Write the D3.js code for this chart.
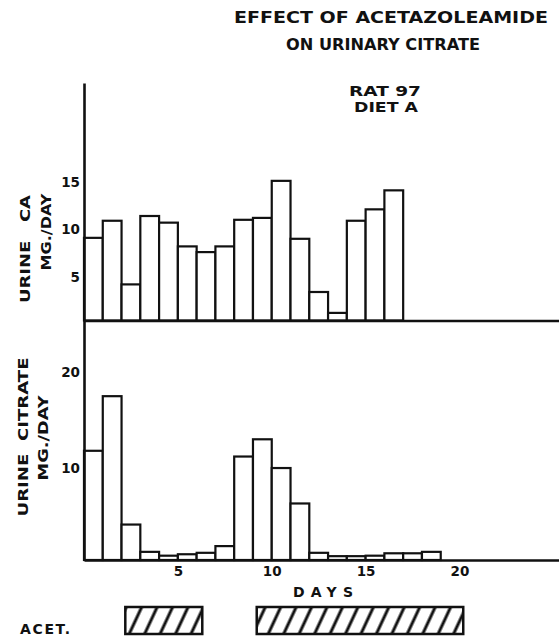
<!DOCTYPE html>
<meta charset="utf-8">
<style>
  body { margin: 0; background: #fff; }
  text { font-family: "DejaVu Sans", sans-serif; font-weight: bold; fill: #111; white-space: pre; }
</style>
<body>
<script src="https://cdn.jsdelivr.net/npm/d3@7/dist/d3.min.js"></script>
<script>
// values (mg/day, one bar per day)
var urineCa = [8.7, 10.5, 3.8, 11.0, 10.3, 7.8, 7.2, 7.8, 10.6, 10.8, 14.7, 8.6, 3.0, 0.8, 10.5, 11.7, 13.7];
var urineCitrate = [11.4, 17.1, 3.7, 0.85, 0.45, 0.6, 0.75, 1.45, 10.8, 12.6, 9.6, 5.9, 0.75, 0.4, 0.4, 0.45, 0.7, 0.7, 0.85];
var caTicks = [5, 10, 15];
var citrateTicks = [10, 20];
var dayTicks = [5, 10, 15, 20];
// acetazolamide given (in day units)
var acetPeriods = [[2.2, 6.3], [9.2, 20.2]];
var titleLines = ["EFFECT OF ACETAZOLEAMIDE", "ON URINARY CITRATE", "RAT 97", "DIET A"];

var width = 559, height = 637;
var svg = d3.select("body").append("svg")
  .attr("width", width)
  .attr("height", height);

// scales
var x = d3.scaleLinear().domain([0, 25.3]).range([84, 559]);
var yCa = d3.scaleLinear().domain([0, 25]).range([320.5, 83]);
var yCit = d3.scaleLinear().domain([0, 25]).range([560, 320.5]);

// hatch for the acet. boxes
svg.append("defs").append("pattern")
  .attr("id", "hatch")
  .attr("patternUnits", "userSpaceOnUse")
  .attr("width", 14).attr("height", 14)
  .attr("patternTransform", "rotate(25)")
  .append("line")
    .attr("x1", 7).attr("y1", -2).attr("x2", 7).attr("y2", 16)
    .attr("stroke", "#111").attr("stroke-width", 3);

// title
var titleText = [
  {x: 391, y: 23, len: 314, size: 15},
  {x: 383, y: 50, len: 194, size: 15},
  {x: 385, y: 96, len: 72, size: 14},
  {x: 386, y: 112, len: 64, size: 14}
];
titleText.forEach(function (t, i) {
  svg.append("text")
    .attr("x", t.x).attr("y", t.y)
    .attr("text-anchor", "middle")
    .attr("font-size", t.size)
    .attr("textLength", t.len)
    .attr("lengthAdjust", "spacingAndGlyphs")
    .text(titleLines[i]);
});

// bars
function drawBars(data, y) {
  svg.append("g").selectAll("rect")
    .data(data)
    .enter().append("rect")
      .attr("x", function (d, i) { return x(i); })
      .attr("width", x(1) - x(0))
      .attr("y", function (d) { return y(d); })
      .attr("height", function (d) { return y(0) - y(d); })
      .attr("fill", "#fff")
      .attr("stroke", "#111")
      .attr("stroke-width", 2.2);
}
drawBars(urineCa, yCa);
drawBars(urineCitrate, yCit);

// axes
function styleAxis(g) {
  g.select(".domain").attr("stroke", "#111").attr("stroke-width", 2.6);
  g.selectAll("text")
    .attr("font-family", "DejaVu Sans, sans-serif")
    .attr("font-weight", "bold")
    .attr("font-size", 13.5)
    .attr("fill", "#111");
}
svg.append("g")
  .attr("transform", "translate(" + x(0) + ",0)")
  .call(d3.axisLeft(yCa).tickValues(caTicks).tickSize(0).tickSizeOuter(0).tickPadding(4))
  .call(styleAxis)
  .selectAll("text").attr("dy", "0.6em");
svg.append("g")
  .attr("transform", "translate(" + x(0) + ",0)")
  .call(d3.axisLeft(yCit).tickValues(citrateTicks).tickSize(0).tickSizeOuter(0).tickPadding(4))
  .call(styleAxis)
  .selectAll("text").attr("dy", "0.6em");
svg.append("g")
  .attr("transform", "translate(0," + yCa(0) + ")")
  .call(d3.axisBottom(x).tickValues([]).tickSizeOuter(0))
  .call(styleAxis);
svg.append("g")
  .attr("transform", "translate(0," + yCit(0) + ")")
  .call(d3.axisBottom(x).tickValues(dayTicks).tickSize(0).tickSizeOuter(0).tickPadding(6))
  .call(styleAxis);

// axis titles
function vLabel(txt, cx, cy, len) {
  svg.append("text")
    .attr("transform", "translate(" + cx + "," + cy + ") rotate(-90)")
    .attr("text-anchor", "middle")
    .attr("dy", "0.35em")
    .attr("font-size", 14)
    .attr("textLength", len)
    .attr("lengthAdjust", "spacingAndGlyphs")
    .text(txt);
}
vLabel("URINE   CA", 25, 249, 108);
vLabel("MG./DAY", 46, 232, 77);
vLabel("URINE  CITRATE", 23, 437, 159);
vLabel("MG./DAY", 43, 438, 85);

svg.append("text")
  .attr("x", 323).attr("y", 597)
  .attr("text-anchor", "middle")
  .attr("font-size", 14)
  .attr("textLength", 60)
  .text("DAYS");

// acetazolamide periods
svg.append("text")
  .attr("x", 20).attr("y", 634)
  .attr("font-size", 14)
  .attr("textLength", 50)
  .text("ACET.");
svg.append("g").selectAll("rect")
  .data(acetPeriods)
  .enter().append("rect")
    .attr("x", function (d) { return x(d[0]); })
    .attr("width", function (d) { return x(d[1]) - x(d[0]); })
    .attr("y", 607)
    .attr("height", 27)
    .attr("fill", "url(#hatch)")
    .attr("stroke", "#111")
    .attr("stroke-width", 2.5);
</script>
</body>
